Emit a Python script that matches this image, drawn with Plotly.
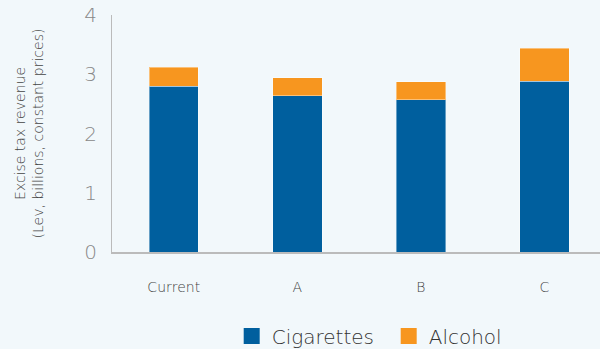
import plotly.graph_objects as go

categories = ["Current", "A", "B", "C"]
cigarettes = [2.80, 2.64, 2.57, 2.88]
alcohol = [0.32, 0.30, 0.30, 0.56]
y_ticks = [0, 1, 2, 3, 4]
series_names = ["Cigarettes", "Alcohol"]

BG = "#F2F8FB"
BLUE = "#005F9E"
ORANGE = "#F7961F"
FONT = "DejaVu Sans"

fig = go.Figure()
for vals, name, col in [(cigarettes, series_names[0], BLUE), (alcohol, series_names[1], ORANGE)]:
    fig.add_trace(go.Bar(x=categories, y=vals, name=name, showlegend=False,
                         marker=dict(color=col, line=dict(color="rgba(255,255,255,0.4)", width=1))))
for name, col in [(series_names[0], BLUE), (series_names[1], ORANGE)]:
    fig.add_trace(go.Scatter(x=[None], y=[None], mode="markers", name=name,
                             marker=dict(symbol="square", size=16, color=col)))

fig.update_layout(
    width=600, height=349,
    barmode="stack", bargap=0.6,
    paper_bgcolor=BG, plot_bgcolor=BG,
    margin=dict(l=112, r=0, t=15, b=97, autoexpand=False),
    font=dict(family=FONT, color="#555555"),
    showlegend=True,
    legend=dict(orientation="h", x=0.567, xanchor="center", y=-0.354, yanchor="middle",
                font=dict(size=20, color="#333333", family=FONT, weight=200),
                entrywidth=112, entrywidthmode="pixels",
                traceorder="normal", bgcolor="rgba(0,0,0,0)", itemsizing="trace"),
    xaxis=dict(range=[-0.5, 3.45], showgrid=False, zeroline=False, automargin=False,
               showline=True, linecolor="#BBBBBB", linewidth=2,
               tickfont=dict(size=14, color="#444444", family=FONT, weight=300),
               ticks="", ticklabelstandoff=21),
    yaxis=dict(range=[0, 4], tickvals=y_ticks, showgrid=False, zeroline=False, automargin=False,
               showline=True, linecolor="#BBBBBB", linewidth=1,
               tickfont=dict(size=20, color="#888888", family=FONT, weight=200),
               ticks="", ticklabelstandoff=10,
               title=dict(text="Excise tax revenue<br>(Lev, billions, constant prices)",
                          font=dict(size=14, color="#444444", family=FONT, weight=200), standoff=37)),
)

fig.write_html("out.html", config={"displayModeBar": False},
               post_script="document.body.style.margin='0';document.body.style.padding='0';")
